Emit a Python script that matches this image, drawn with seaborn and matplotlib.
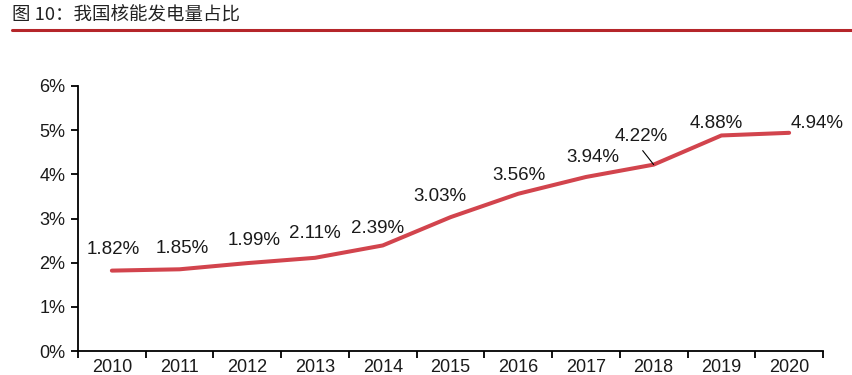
import numpy as np
import pandas as pd
import matplotlib
matplotlib.use("Agg")
import matplotlib.pyplot as plt
import seaborn as sns
from matplotlib.ticker import FixedLocator, FuncFormatter

# data
years = ["2010", "2011", "2012", "2013", "2014", "2015", "2016", "2017", "2018", "2019", "2020"]
share = [1.82, 1.85, 1.99, 2.11, 2.39, 3.03, 3.56, 3.94, 4.22, 4.88, 4.94]
labels = ["1.82%", "1.85%", "1.99%", "2.11%", "2.39%", "3.03%", "3.56%", "3.94%", "4.22%", "4.88%", "4.94%"]
# label offsets in pixels (dx, dy) from each point
offsets = [(1, 21), (3, 21), (7, 23), (0, 24), (-5, 17), (-11, 21), (1, 18), (7, 19), (-12, 28), (-5, 12), (28, 9)]

sns.set_style("white")
plt.rcParams['font.family'] = ['Liberation Sans', 'Noto Sans CJK SC', 'DejaVu Sans']

df = pd.DataFrame({"year": years, "share": share})

fig = plt.figure(figsize=(8.53, 3.75), dpi=100)
ax = fig.add_axes([78 / 853, 1 - 351 / 375, (823 - 78) / 853, (351 - 86) / 375])

sns.lineplot(data=df, x="year", y="share", color="#d2444d", linewidth=2.9, ax=ax, sort=False)

for i in range(len(years)):
    dx, dy = offsets[i]
    ax.annotate(labels[i], xy=(i, share[i]), xytext=(dx, dy), textcoords="offset pixels",
                ha="center", va="center", fontsize=13.5, color="#1a1a1a")

# leader line for 2018 label
ax.annotate("", xy=(8, share[8]), xytext=(-11, 14), textcoords="offset pixels",
            arrowprops=dict(arrowstyle="-", color="black", lw=0.8, shrinkA=0, shrinkB=0))

ax.set_xlim(-0.5, len(years) - 0.5)
ax.set_ylim(0, 6)
ax.set_xlabel("")
ax.set_ylabel("")

ax.xaxis.set_major_locator(FixedLocator(range(len(years))))
ax.set_xticklabels(years)
ax.xaxis.set_minor_locator(FixedLocator(np.arange(-0.5, len(years), 1)))
ax.tick_params(axis="x", which="major", length=0, pad=6, labelsize=13, labelcolor="#1a1a1a")
ax.tick_params(axis="x", which="minor", length=5, width=1.3, direction="out", color="black", bottom=True)

ax.set_yticks(range(0, 7))
ax.yaxis.set_major_formatter(FuncFormatter(lambda v, p: "%d%%" % v))
ax.tick_params(axis="y", length=5, width=1.3, direction="out", color="black", left=True, pad=4,
               labelsize=13, labelcolor="#1a1a1a")

for s in ["top", "right"]:
    ax.spines[s].set_visible(False)
for s in ["left", "bottom"]:
    ax.spines[s].set_color("black")
    ax.spines[s].set_linewidth(1.3)

# title and red rule
fig.text(12 / 853, 1 - 15 / 375, "图 10：我国核能发电量占比", fontsize=13.3, color="#222222",
         ha="left", va="center", family=['Noto Sans CJK SC', 'DejaVu Sans'])
fig.add_artist(plt.Line2D([12 / 853, 1.0], [1 - 29.5 / 375, 1 - 29.5 / 375], color="#b5262a", linewidth=2.2))

plt.savefig("out.png", dpi=100)
